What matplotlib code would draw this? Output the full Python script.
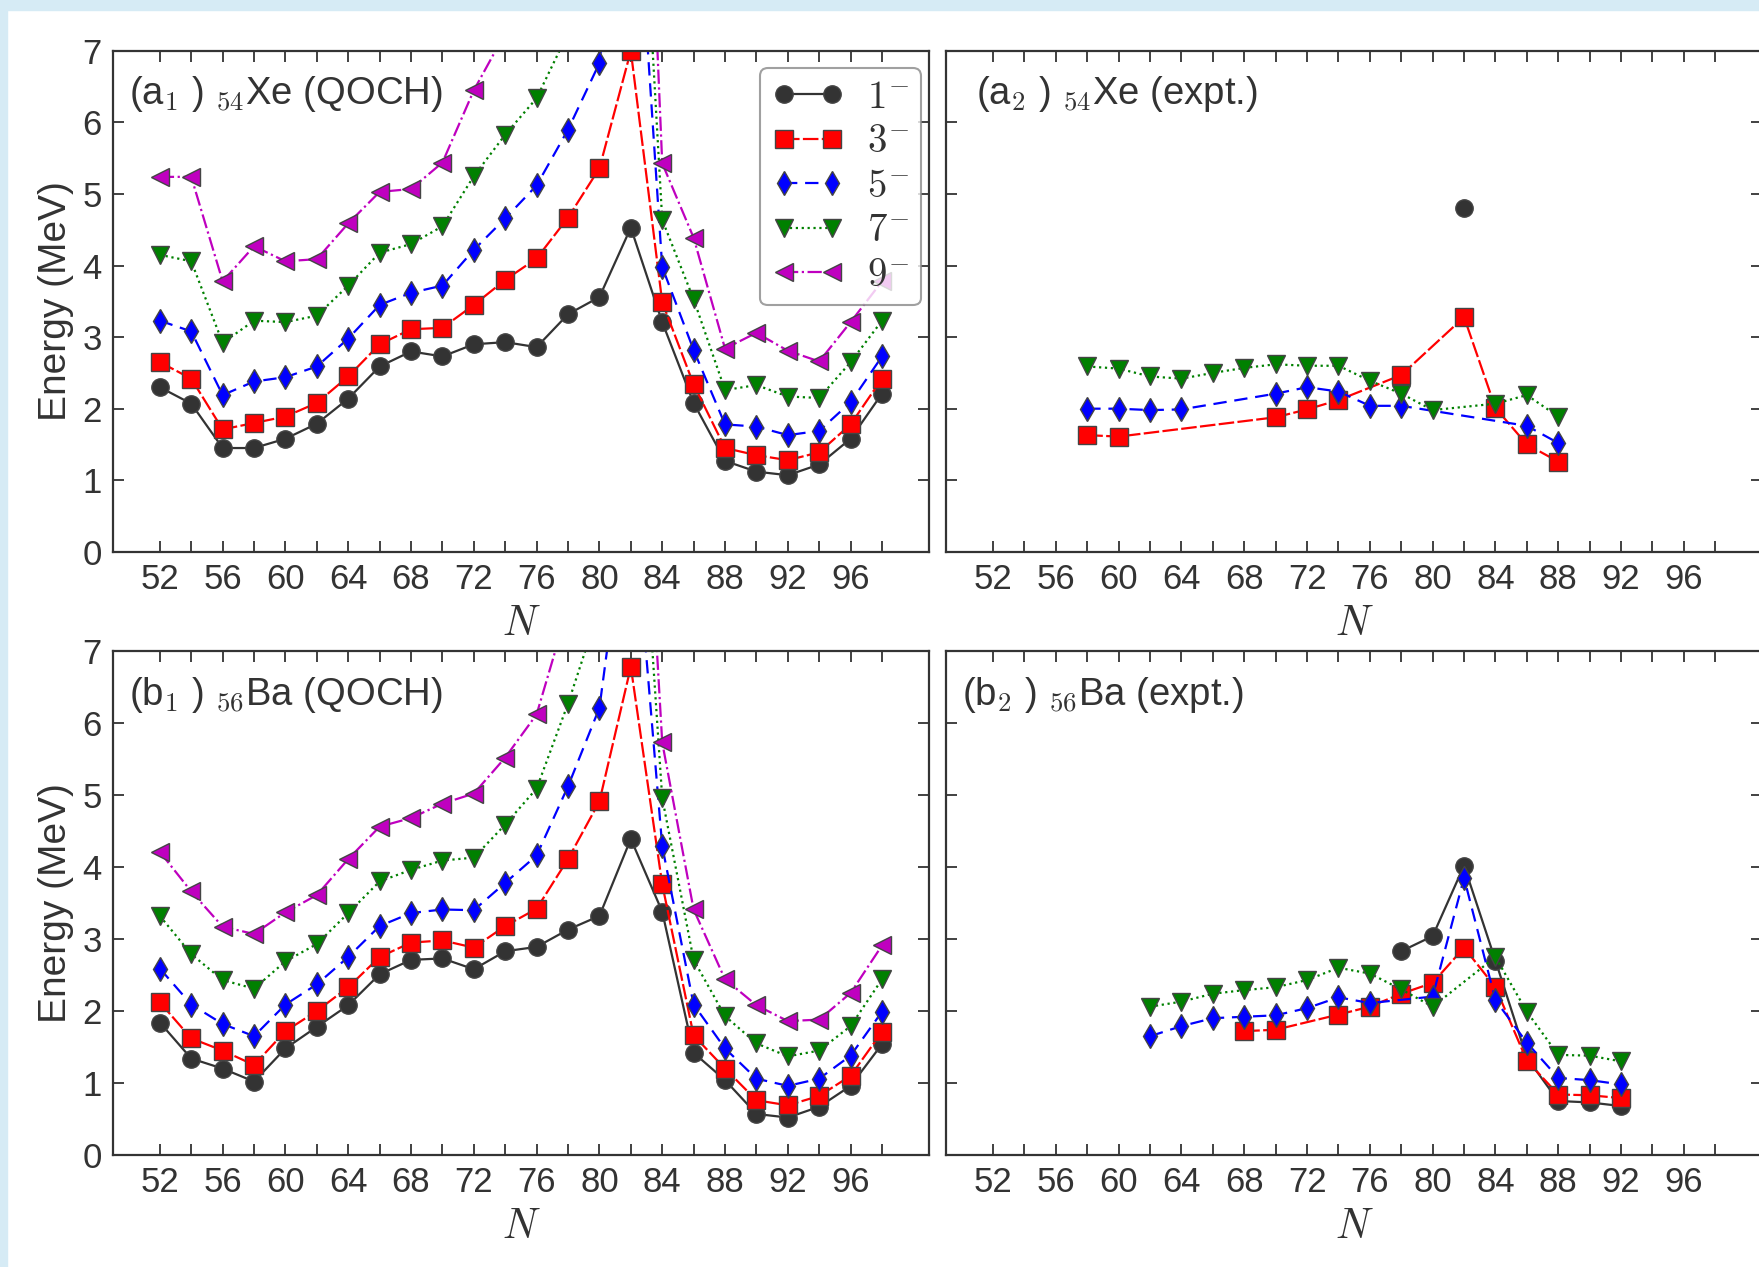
import matplotlib
matplotlib.use("Agg")
import matplotlib.pyplot as plt
from matplotlib.patches import Rectangle

plt.rcParams['font.family'] = ['Liberation Sans', 'DejaVu Sans']
plt.rcParams['mathtext.fontset'] = 'cm'
plt.rcParams['text.color'] = '#333333'
plt.rcParams['axes.labelcolor'] = '#333333'
plt.rcParams['xtick.color'] = '#333333'
plt.rcParams['ytick.color'] = '#333333'

# ---- data -------------------------------------------------------------
# QOCH calculation, N = 52 ... 98
N_qoch = [52, 54, 56, 58, 60, 62, 64, 66, 68, 70, 72, 74,
          76, 78, 80, 82, 84, 86, 88, 90, 92, 94, 96, 98]

xe_1 = [2.30, 2.07, 1.45, 1.45, 1.58, 1.79, 2.14, 2.59, 2.80, 2.73, 2.90, 2.93,
        2.86, 3.32, 3.56, 4.53, 3.21, 2.08, 1.27, 1.12, 1.07, 1.22, 1.58, 2.21]
xe_3 = [2.65, 2.42, 1.71, 1.80, 1.89, 2.08, 2.45, 2.90, 3.11, 3.13, 3.45, 3.80,
        4.10, 4.67, 5.36, 7.00, 3.49, 2.34, 1.45, 1.35, 1.28, 1.39, 1.78, 2.42]
xe_5 = [3.23, 3.08, 2.19, 2.38, 2.44, 2.59, 2.98, 3.45, 3.62, 3.72, 4.22, 4.66,
        5.12, 5.90, 6.83, 10.6, 3.98, 2.82, 1.78, 1.75, 1.63, 1.69, 2.09, 2.73]
xe_7 = [4.15, 4.06, 2.92, 3.23, 3.21, 3.30, 3.72, 4.18, 4.30, 4.55, 5.25, 5.83,
        6.34, 7.25, 8.60, 12.4, 4.64, 3.53, 2.26, 2.33, 2.17, 2.15, 2.65, 3.23]
xe_9 = [5.24, 5.24, 3.78, 4.27, 4.06, 4.09, 4.59, 5.03, 5.07, 5.44, 6.45, 7.25,
        8.20, 9.40, 11.2, 15.8, 5.43, 4.39, 2.84, 3.06, 2.81, 2.66, 3.21, 3.78]

ba_1 = [1.84, 1.34, 1.20, 1.02, 1.48, 1.78, 2.08, 2.51, 2.71, 2.73, 2.58, 2.83,
        2.89, 3.13, 3.32, 4.39, 3.38, 1.42, 1.04, 0.57, 0.52, 0.67, 0.96, 1.54]
ba_3 = [2.12, 1.62, 1.45, 1.25, 1.72, 2.00, 2.33, 2.75, 2.95, 2.98, 2.88, 3.18,
        3.42, 4.11, 4.91, 6.78, 3.76, 1.66, 1.20, 0.76, 0.69, 0.82, 1.10, 1.71]
ba_5 = [2.59, 2.09, 1.82, 1.65, 2.09, 2.37, 2.75, 3.18, 3.36, 3.41, 3.40, 3.78,
        4.16, 5.12, 6.21, 9.50, 4.29, 2.09, 1.48, 1.06, 0.96, 1.06, 1.38, 1.99]
ba_7 = [3.32, 2.79, 2.43, 2.31, 2.69, 2.93, 3.36, 3.80, 3.96, 4.09, 4.13, 4.59,
        5.09, 6.27, 7.60, 11.5, 4.96, 2.71, 1.93, 1.55, 1.37, 1.45, 1.79, 2.44]
ba_9 = [4.21, 3.66, 3.17, 3.07, 3.37, 3.61, 4.11, 4.56, 4.68, 4.88, 5.02, 5.52,
        6.12, 7.60, 9.50, 13.3, 5.73, 3.41, 2.44, 2.08, 1.86, 1.88, 2.25, 2.91]

# experiment, Xe
xe_exp1_N = [82]
xe_exp1 = [4.81]
xe_exp3_N = [58, 60, 70, 72, 74, 78, 82, 84, 86, 88]
xe_exp3 = [1.63, 1.61, 1.88, 1.99, 2.12, 2.47, 3.28, 2.01, 1.50, 1.26]
xe_exp5_N = [58, 60, 62, 64, 70, 72, 74, 76, 78, 86, 88]
xe_exp5 = [2.00, 2.00, 1.98, 1.99, 2.21, 2.30, 2.24, 2.04, 2.04, 1.76, 1.52]
xe_exp7_N = [58, 60, 62, 64, 66, 68, 70, 72, 74, 76, 78, 80, 84, 86, 88]
xe_exp7 = [2.59, 2.56, 2.45, 2.42, 2.50, 2.57, 2.62, 2.60, 2.60, 2.39, 2.21,
           1.98, 2.07, 2.19, 1.89]

# experiment, Ba
ba_exp1_N = [78, 80, 82, 84, 86, 88, 90, 92]
ba_exp1 = [2.83, 3.04, 4.02, 2.70, 1.35, 0.75, 0.73, 0.68]
ba_exp3_N = [68, 70, 74, 76, 78, 80, 82, 84, 86, 88, 90, 92]
ba_exp3 = [1.72, 1.74, 1.95, 2.06, 2.24, 2.39, 2.88, 2.33, 1.31, 0.84, 0.83, 0.79]
ba_exp5_N = [62, 64, 66, 68, 70, 72, 74, 76, 80, 82, 84, 86, 88, 90, 92]
ba_exp5 = [1.65, 1.79, 1.90, 1.92, 1.94, 2.04, 2.19, 2.11, 2.20, 3.85, 2.15,
           1.56, 1.07, 1.04, 0.98]
ba_exp7_N = [62, 64, 66, 68, 70, 72, 74, 76, 78, 80, 84, 86, 88, 90, 92]
ba_exp7 = [2.06, 2.13, 2.24, 2.29, 2.33, 2.43, 2.60, 2.52, 2.30, 2.06, 2.75,
           1.99, 1.39, 1.38, 1.30]

labels = [r'$1^{-}$', r'$3^{-}$', r'$5^{-}$', r'$7^{-}$', r'$9^{-}$']
x_ticks = [52, 54, 56, 58, 60, 62, 64, 66, 68, 70, 72, 74,
           76, 78, 80, 82, 84, 86, 88, 90, 92, 94, 96, 98]

# ---- styles -----------------------------------------------------------
styles = [
    dict(color='#333333', ls='-', marker='o', mfc='#333333'),
    dict(color='red', ls=(0, (7, 1.5)), marker='s', mfc='red'),
    dict(color='blue', ls=(0, (6, 3.5)), marker='d', mfc='blue'),
    dict(color='green', ls=':', marker='v', mfc='green'),
    dict(color='m', ls='-.', marker='<', mfc='m'),
]
MS = 12.5
LW = 1.6


def draw(ax, xs, ys, i, label=None):
    st = styles[i]
    ax.plot(xs, ys, color=st['color'], linestyle=st['ls'], linewidth=LW,
            marker=st['marker'], markersize=MS, markerfacecolor=st['mfc'],
            markeredgecolor='#444444', markeredgewidth=1.0, label=label)


def style_axes(ax, left_labels):
    ax.set_xlim(49, 101)
    ax.set_ylim(0, 7)
    ax.set_xticks(x_ticks)
    ax.set_xticklabels([str(n) if (n - 52) % 4 == 0 else '' for n in x_ticks])
    ax.set_yticks(range(8))
    ax.tick_params(direction='in', top=True, right=True, length=8, width=1.3,
                   labelsize=25, pad=8)
    if not left_labels:
        ax.set_yticklabels([])
    else:
        ax.set_ylabel('Energy (MeV)', fontsize=28, labelpad=6)
    ax.set_xlabel(r'$N$', fontsize=30, labelpad=6)
    for sp in ax.spines.values():
        sp.set_color('#333333')
        sp.set_linewidth(1.6)


fig = plt.figure(figsize=(17.59, 12.67), dpi=100)
fig.patches.append(Rectangle((0, 0), 7 / 1759, 1, transform=fig.transFigure,
                             color='#d6ebf5', zorder=-1))
fig.patches.append(Rectangle((0, 1 - 10 / 1267), 1, 10 / 1267,
                             transform=fig.transFigure, color='#d6ebf5',
                             zorder=-1))

ax_a1 = fig.add_axes([0.0641, 0.5645, 0.4641, 0.3953])
ax_a2 = fig.add_axes([0.5378, 0.5645, 0.4641, 0.3953])
ax_b1 = fig.add_axes([0.0641, 0.0884, 0.4641, 0.3978])
ax_b2 = fig.add_axes([0.5378, 0.0884, 0.4641, 0.3978])

for i, ys in enumerate([xe_1, xe_3, xe_5, xe_7, xe_9]):
    draw(ax_a1, N_qoch, ys, i, labels[i])
for i, ys in enumerate([ba_1, ba_3, ba_5, ba_7, ba_9]):
    draw(ax_b1, N_qoch, ys, i)

draw(ax_a2, xe_exp1_N, xe_exp1, 0)
draw(ax_a2, xe_exp3_N, xe_exp3, 1)
draw(ax_a2, xe_exp5_N, xe_exp5, 2)
draw(ax_a2, xe_exp7_N, xe_exp7, 3)

draw(ax_b2, ba_exp1_N, ba_exp1, 0)
draw(ax_b2, ba_exp3_N, ba_exp3, 1)
draw(ax_b2, ba_exp5_N, ba_exp5, 2)
draw(ax_b2, ba_exp7_N, ba_exp7, 3)

style_axes(ax_a1, True)
style_axes(ax_b1, True)
style_axes(ax_a2, False)
style_axes(ax_b2, False)

TXT = 27.5
ax_a1.text(0.02, 0.915, r'(a$_1$ ) $_{54}$Xe (QOCH)', transform=ax_a1.transAxes,
           fontsize=TXT, va='center', ha='left')
ax_a2.text(0.037, 0.915, r'(a$_2$ ) $_{54}$Xe (expt.)', transform=ax_a2.transAxes,
           fontsize=TXT, va='center', ha='left')
ax_b1.text(0.02, 0.912, r'(b$_1$ ) $_{56}$Ba (QOCH)', transform=ax_b1.transAxes,
           fontsize=TXT, va='center', ha='left')
ax_b2.text(0.02, 0.912, r'(b$_2$ ) $_{56}$Ba (expt.)', transform=ax_b2.transAxes,
           fontsize=TXT, va='center', ha='left')

leg = ax_a1.legend(loc='upper right', bbox_to_anchor=(1 - 8 / 816, 1 - 17 / 501),
                   borderaxespad=0, numpoints=2, fontsize=28, handlelength=1.85,
                   handletextpad=0.6, labelspacing=0.22, borderpad=0.3,
                   fancybox=True, framealpha=0.8, edgecolor='#888888')
leg.get_frame().set_linewidth(1.5)

fig.savefig('out.png', dpi=100)
